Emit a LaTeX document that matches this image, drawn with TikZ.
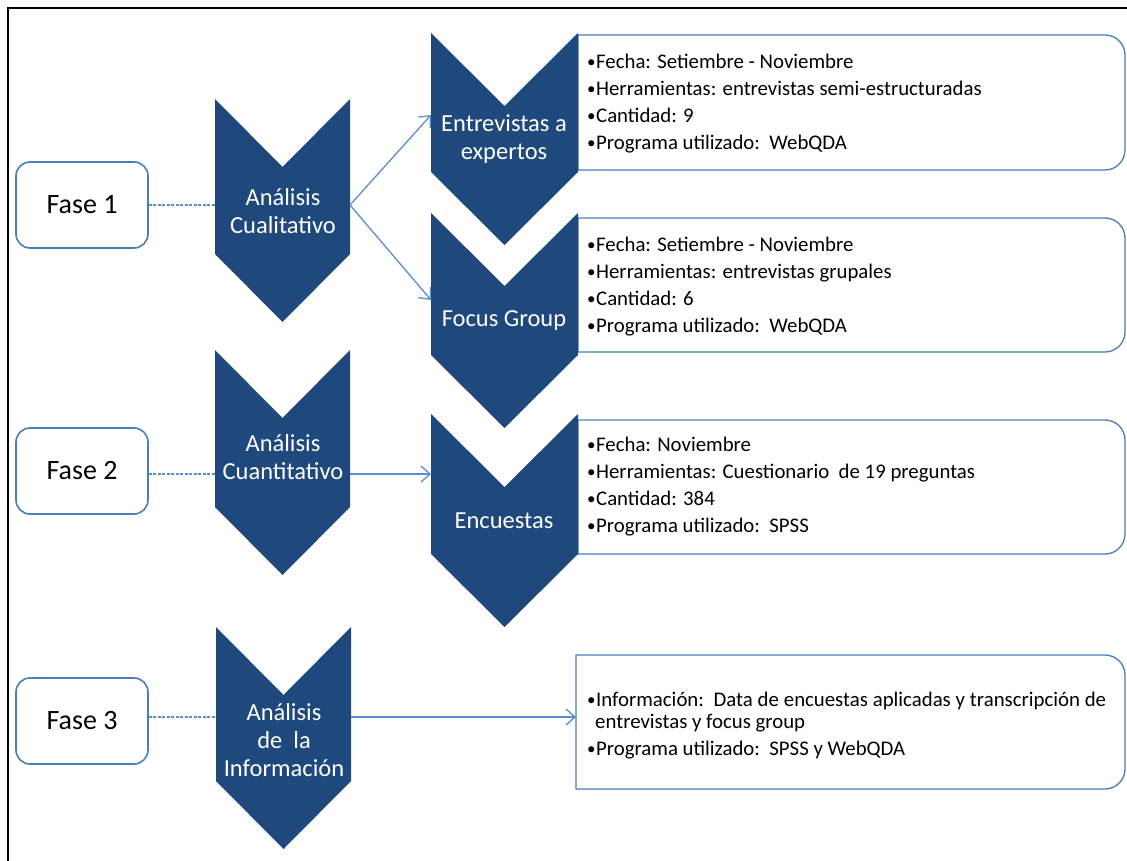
\documentclass[tikz,border=0pt]{standalone}
\usepackage{fontspec}
\setmainfont{Carlito}
\usetikzlibrary{arrows.meta}
\definecolor{chev}{HTML}{1F497D}
\definecolor{bord}{HTML}{4A7EBB}
\definecolor{conn}{HTML}{5B8ED0}
\newcommand\blt{\raisebox{1pt}{\fontsize{17}{17}\selectfont•}\hspace{0.5pt}}
\begin{document}
\begin{tikzpicture}[x=1pt,y=-1pt,
 chevron/.style={fill=chev,draw=none},
 chevtext/.style={text=white,font=\fontsize{24.5}{28}\selectfont,align=center,inner sep=0pt},
 fasebox/.style={draw=bord,line width=1.6pt,rounded corners=14pt,minimum width=132pt,minimum height=86pt,font=\fontsize{28}{34}\selectfont,inner sep=0pt},
 infobox/.style={draw=bord,line width=1.3pt,fill=white},
 infotext/.style={anchor=west,align=left,inner sep=0pt,font=\fontsize{20.8}{27}\selectfont},
 dashline/.style={draw=conn,line width=1.3pt,dash pattern=on 3pt off 1.5pt},
 arrowline/.style={draw=conn,line width=1.3pt,-{Straight Barb[length=9pt,width=16pt]}}
]
\useasboundingbox (0,0) rectangle (1127,861);
\draw[line width=2pt] (8,861) -- (8,8) -- (1127,8);

% info boxes
\draw[infobox] (578,35) [rounded corners=20pt] -- (1125,35) -- (1125,170) [sharp corners] -- (578,170) -- cycle;
\draw[infobox] (578,218) [rounded corners=20pt] -- (1125,218) -- (1125,352) [sharp corners] -- (578,352) -- cycle;
\draw[infobox] (578,420) [rounded corners=20pt] -- (1125,420) -- (1125,554) [sharp corners] -- (578,554) -- cycle;
\draw[infobox] (576,655) [rounded corners=20pt] -- (1125,655) -- (1125,789) [sharp corners] -- (576,789) -- cycle;

% chevrons column 1
\fill[chevron] (215,99) -- (282.5,167) -- (350,99) -- (350,254) -- (282.5,322) -- (215,254) -- cycle;
\fill[chevron] (215,350) -- (282.5,418) -- (350,350) -- (350,507) -- (282.5,575) -- (215,507) -- cycle;
\fill[chevron] (216,627) -- (283.5,695) -- (351,627) -- (351,781) -- (283.5,849) -- (216,781) -- cycle;
% chevrons column 2
\fill[chevron] (431,33) -- (504.5,106) -- (578,33) -- (578,172) -- (504.5,245) -- (431,172) -- cycle;
\fill[chevron] (431,213) -- (504.5,286) -- (578,213) -- (578,355) -- (504.5,428) -- (431,355) -- cycle;
\fill[chevron] (431,414) -- (504.5,487) -- (578,414) -- (578,554) -- (504.5,627) -- (431,554) -- cycle;

% phase boxes
\node[fasebox] (f1) at (82,205) {Fase 1};
\node[fasebox] (f2) at (82,471) {Fase 2};
\node[fasebox] (f3) at (82,721) {Fase 3};

% chevron texts
\node[chevtext] (c1) at (283,211) {Análisis\\Cualitativo};
\node[chevtext] (c2) at (283,457) {Análisis\\Cuantitativo};
\node[chevtext] (c3) at (284,740) {Análisis\\de\ \ la\\Información};
\node[chevtext] (e) at (504,139) {Entrevistas a\\expertos};
\node[chevtext] (fg) at (504,321) {Focus Group};
\node[chevtext] (enc) at (504,521) {Encuestas};

% info texts
\node[infotext] (i1) at (587,104) {\blt Fecha: Setiembre - Noviembre\\\blt Herramientas: entrevistas semi-estructuradas\\\blt Cantidad: 9\\\blt Programa utilizado:\ \ WebQDA};
\node[infotext] (i2) at (587,287) {\blt Fecha: Setiembre - Noviembre\\\blt Herramientas: entrevistas grupales\\\blt Cantidad: 6\\\blt Programa utilizado:\ \ WebQDA};
\node[infotext] (i3) at (587,487) {\blt Fecha: Noviembre\\\blt Herramientas: Cuestionario\ \ de 19 preguntas\\\blt Cantidad: 384\\\blt Programa utilizado:\ \ SPSS};
\node[infotext] (i4) at (587,726) {\makebox[519pt][s]{\blt Información:\ \ Data de encuestas aplicadas y transcripción de}\\[-5pt]\hspace{8pt}entrevistas y focus group\\\blt Programa utilizado:\ \ SPSS y WebQDA};

% connector anchors
\coordinate (c1in) at (215,205);
\coordinate (c1out) at (350,205);
\coordinate (ein) at (431,115);
\coordinate (fgin) at (431,300);
\coordinate (c2in) at (215,474);
\coordinate (c2out) at (350,474);
\coordinate (encin) at (431,474);
\coordinate (c3in) at (216,717);
\coordinate (c3out) at (351,717);
\coordinate (b4w) at (576,717);

\draw[dashline] (f1.east) -- (c1in);
\draw[dashline] (f2.east |- c2in) -- (c2in);
\draw[dashline] (f3.east |- c3in) -- (c3in);
\draw[arrowline] (c1out) -- (ein);
\draw[arrowline] (c1out) -- (fgin);
\draw[arrowline] (c2out) -- (encin);
\draw[arrowline] (c3out) -- (b4w);
\end{tikzpicture}
\end{document}
